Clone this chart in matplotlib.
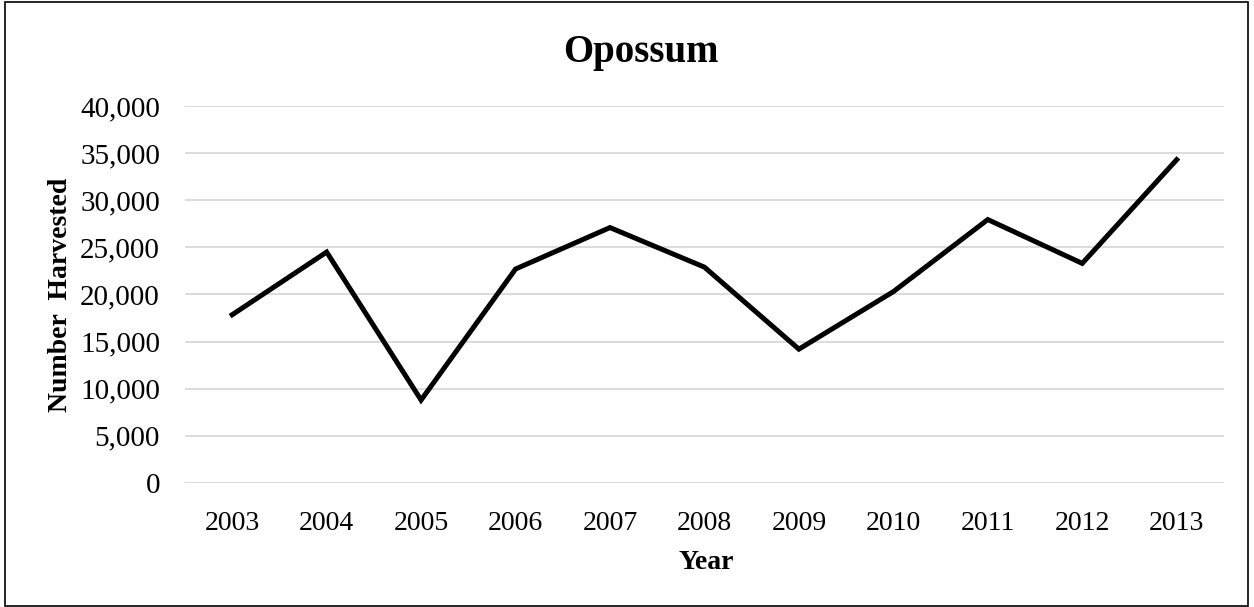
import matplotlib.pyplot as plt
from matplotlib.patches import Rectangle
from matplotlib.ticker import FuncFormatter

years = ['2003', '2004', '2005', '2006', '2007', '2008', '2009', '2010', '2011', '2012', '2013']
harvested = [17850, 24500, 8800, 22700, 27100, 22900, 14200, 20300, 27950, 23300, 34300]

plt.rcParams['font.family'] = ['Liberation Serif', 'DejaVu Serif']

fig = plt.figure(figsize=(12.54, 6.07), dpi=100)
ax = fig.add_axes([0.1475, 0.2043, 0.8285, 0.6211])

ax.plot(range(len(years)), harvested, color='black', linewidth=3.6, solid_joinstyle='miter')

ax.set_xlim(-0.5, len(years) - 0.5)
ax.set_ylim(0, 40000)
ax.set_yticks(range(0, 40001, 5000))
ax.yaxis.set_major_formatter(FuncFormatter(lambda v, p: f'{int(v):,}'))
ax.set_xticks(range(len(years)))
ax.set_xticklabels(years)

ax.grid(axis='y', color='#d9d9d9', linewidth=1.3)
ax.set_axisbelow(True)
for s in ax.spines.values():
    s.set_visible(False)
ax.tick_params(axis='both', length=0, labelsize=20)
ax.tick_params(axis='y', pad=18, labelsize=21)
ax.tick_params(axis='x', pad=20)

fig.text(0.511, 0.914, 'Opossum', ha='center', va='center', fontsize=28, fontweight='bold')
fig.text(0.563, 0.074, 'Year', ha='center', va='center', fontsize=20, fontweight='bold')
fig.text(0.048, 0.514, 'Number  Harvested', ha='center', va='center', rotation=90,
         fontsize=20, fontweight='bold')

fig.patches.append(Rectangle((0.004, 0.002), 0.991, 0.995, transform=fig.transFigure,
                             fill=False, edgecolor='black', linewidth=1.2))

fig.savefig('out.png', dpi=100)
